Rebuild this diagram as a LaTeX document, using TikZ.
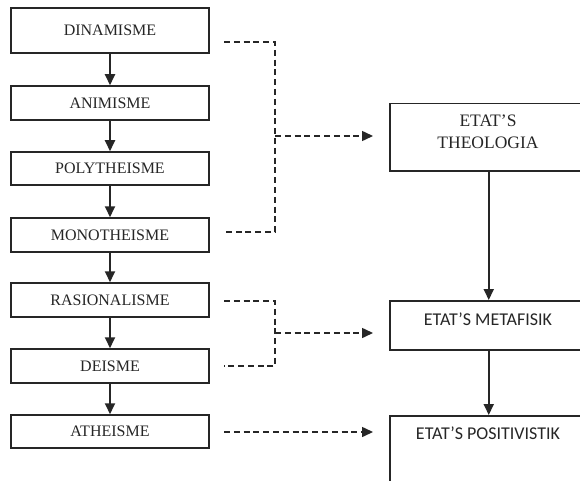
\documentclass[tikz,border=0pt]{standalone}
\usepackage{fontspec}
\setmainfont{Liberation Serif}
\newfontfamily\carl{Carlito}
\usetikzlibrary{arrows.meta}
\definecolor{ink}{HTML}{262626}
\begin{document}
\begin{tikzpicture}[x=1pt,y=-1pt,
  lbox/.style={draw=ink,line width=1.5pt,minimum width=198pt,inner sep=0pt,text=ink,font=\rmfamily\fontsize{16}{18}\selectfont},
  rbox/.style={draw=ink,line width=1.5pt,inner sep=0pt,anchor=north west},
  solidarr/.style={draw=ink,line width=1.9pt,-{Triangle[length=11pt,width=10pt]}},
  dl/.style={draw=ink,line width=1.5pt,dash pattern=on 6pt off 3.8pt},
  dlarr/.style={dl,-{Triangle[length=11pt,width=10pt]}},
  rtext/.style={text=ink,inner sep=0pt}]
\useasboundingbox (0,0) rectangle (580,481);
\clip (0,0) rectangle (580,481);
\fill[white] (0,0) rectangle (580,481);
% left column
\node[lbox,minimum height=45pt] (din) at (110,30.5) {DINAMISME};
\node[lbox,minimum height=34pt] (ani) at (110,103) {ANIMISME};
\node[lbox,minimum height=33pt] (pol) at (110,168.5) {POLYTHEISME};
\node[lbox,minimum height=34pt] (mon) at (110,235) {MONOTHEISME};
\node[lbox,minimum height=34pt] (ras) at (110,300) {RASIONALISME};
\node[lbox,minimum height=34pt] (dei) at (110,366) {DEISME};
\node[lbox,minimum height=33pt] (ath) at (110,431.5) {ATHEISME};
\draw[solidarr] (din) -- (ani);
\draw[solidarr] (ani) -- (pol);
\draw[solidarr] (pol) -- (mon);
\draw[solidarr] (mon) -- (ras);
\draw[solidarr] (ras) -- (dei);
\draw[solidarr] (dei) -- (ath);
% right column
\node[rbox,minimum width=198pt,minimum height=67pt] (theo) at (389,103) {};
\node[rtext,align=center,font=\rmfamily\fontsize{17.5}{22}\selectfont] (theot) at (488,132) {ETAT’S\\THEOLOGIA};
\node[rbox,minimum width=198pt,minimum height=49pt] (meta) at (389,300) {};
\node[rtext,font=\carl\fontsize{18}{20}\selectfont] (metat) at (488,319) {ETAT’S METAFISIK};
\node[rbox,minimum width=198pt,minimum height=90pt] (posi) at (389,415) {};
\node[rtext,font=\carl\fontsize{18}{20}\selectfont] (posit) at (488,433) {ETAT’S POSITIVISTIK};
\draw[solidarr] (theo.south) -- (meta.north);
\draw[solidarr] (meta.south) -- (posi.north);
% dashed connectors
\coordinate (a1) at (224,42);
\coordinate (a2) at (224,232);
\coordinate (j1) at (275,136);
\coordinate (b1) at (224,301);
\coordinate (b2) at (224,366);
\coordinate (j2) at (275,333);
\coordinate (c1) at (224,432);
\draw[dl] (a1) -- (275,42) -- (275,232) -- (a2);
\draw[dlarr,shorten >=16pt] (j1) -- (theo.west |- j1);
\draw[dl] (b1) -- (275,301) -- (275,366) -- (b2);
\draw[dlarr,shorten >=16pt] (j2) -- (meta.west |- j2);
\draw[dlarr,shorten >=16pt] (c1) -- (posi.west |- c1);
\end{tikzpicture}
\end{document}
